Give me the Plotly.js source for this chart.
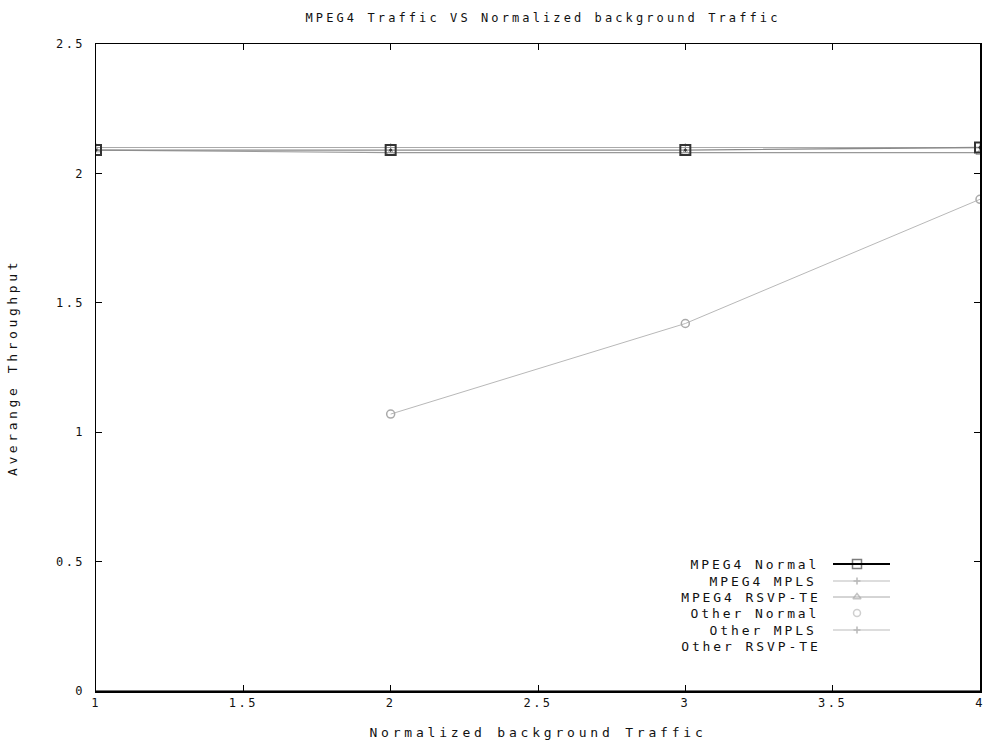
<!DOCTYPE html>
<html>
<head>
<meta charset="utf-8">
<script src="https://cdn.plot.ly/plotly-3.0.1.min.js"></script>
<style>
  html, body { margin: 0; padding: 0; background: #fff; }
  #plot { width: 985px; height: 747px; }
  #plot .gtitle { letter-spacing: 3.1px; }
  #plot .xtitle { letter-spacing: 3.8px; }
  #plot .ytitle { letter-spacing: 3.6px; }
  #plot .xtick text, #plot .ytick text { letter-spacing: 2.5px; }
  #plot .annotation-text { letter-spacing: 2.9px; }
</style>
</head>
<body>
<div id="plot"></div>
<script>
// ---- data ----
const xValues = [1, 2, 3, 4];
const mpeg4Normal = [2.09, 2.09, 2.09, 2.10];
const mpeg4Mpls = [2.10, 2.10, 2.10, 2.10];
const mpeg4Rsvp = [2.09, 2.08, 2.08, 2.08];
const otherNormalX = [2, 3, 4];
const otherNormal = [1.07, 1.42, 1.90];
const otherMpls = [0, 0, 0, 0];
const otherRsvp = [0, 0, 0, 0];
const seriesNames = ["MPEG4 Normal", "MPEG4 MPLS", "MPEG4 RSVP-TE", "Other Normal", "Other MPLS", "Other RSVP-TE"];
const xTickVals = [1, 1.5, 2, 2.5, 3, 3.5, 4];
const xTickText = ["1", "1.5", "2", "2.5", "3", "3.5", "4"];
const yTickVals = [0, 0.5, 1, 1.5, 2, 2.5];
const yTickText = ["0", "0.5", "1", "1.5", "2", "2.5"];

const FONT = "DejaVu Sans Mono, Liberation Mono, monospace";

// plot area in pixels
const L = 96, R = 980, T = 44, B = 691, W = 985, H = 747;
const px2x = p => (p - L) / (R - L);
const px2y = p => (B - p) / (B - T);

const traces = [
  {x: xValues, y: mpeg4Mpls, mode: "lines+markers", name: seriesNames[1],
   line: {color: "#aaaaaa", width: 1.2}, marker: {symbol: "cross-thin-open", size: 6, color: "#999", line: {width: 1, color: "#999"}}},
  {x: xValues, y: mpeg4Rsvp, mode: "lines+markers", name: seriesNames[2],
   line: {color: "#999999", width: 1.2}, marker: {symbol: "triangle-up-open", size: 7, color: "#aaa", line: {width: 1, color: "#aaa"}}},
  {x: xValues, y: mpeg4Normal, mode: "lines+markers", name: seriesNames[0],
   line: {color: "#8a8a8a", width: 1.3}, marker: {symbol: "square-open-dot", size: 10, color: "#333", line: {width: 2, color: "#333"}}},
  {x: otherNormalX, y: otherNormal, mode: "lines+markers", name: seriesNames[3],
   line: {color: "#b8b8b8", width: 1}, marker: {symbol: "circle-open", size: 8, color: "#aaa", line: {width: 1.5, color: "#aaa"}}},
  {x: xValues, y: otherMpls, mode: "lines", name: seriesNames[4],
   line: {color: "#444", width: 1}},
  {x: xValues, y: otherRsvp, mode: "lines", name: seriesNames[5],
   line: {color: "#444", width: 1}}
];

// custom legend (text right-aligned, sample on the right like the original)
const legendRowsPx = [564, 581, 597, 613, 630, 646];
const legendTextRight = 804, sampleX0 = 833, sampleX1 = 890, sampleMid = 857;
const legendStyles = [
  {line: "#000", lw: 2, sym: "square-open", mc: "#444", ms: 9},
  {line: "#bbb", lw: 1, sym: "cross-thin-open", mc: "#999", ms: 5},
  {line: "#aaa", lw: 1, sym: "triangle-up-open", mc: "#aaa", ms: 7},
  {line: null, lw: 0, sym: "circle-open", mc: "#bbb", ms: 7},
  {line: "#bbb", lw: 1, sym: "cross-thin-open", mc: "#999", ms: 5},
  {line: null, lw: 0, sym: null, mc: null, ms: 0}
];
const annotations = [];
const shapes = [];
const legX = [], legY = [], legSym = [], legCol = [], legSize = [];
seriesNames.forEach((n, i) => {
  const yp = px2y(legendRowsPx[i]);
  annotations.push({xref: "paper", yref: "paper", x: px2x(legendTextRight), y: yp,
    xanchor: "right", yanchor: "middle", text: n, showarrow: false,
    font: {family: FONT, size: 13, color: "#111"}});
  const s = legendStyles[i];
  if (s.line) shapes.push({type: "line", xref: "paper", yref: "paper",
    x0: px2x(sampleX0), x1: px2x(sampleX1), y0: yp, y1: yp, line: {color: s.line, width: s.lw}});
  if (s.sym) { legX.push(px2x(sampleMid)); legY.push(yp); legSym.push(s.sym); legCol.push(s.mc); legSize.push(s.ms); }
});
traces.push({x: legX, y: legY, xaxis: "x2", yaxis: "y2", mode: "markers", hoverinfo: "skip", showlegend: false,
  marker: {symbol: legSym, color: legCol, size: legSize, line: {color: legCol, width: 1.5}}});

const layout = {
  width: W, height: H,
  margin: {l: L, r: W - R, t: T, b: H - B, pad: 0},
  paper_bgcolor: "#fff", plot_bgcolor: "#fff",
  showlegend: false,
  font: {family: FONT, size: 12, color: "#111"},
  title: {text: "MPEG4 Traffic VS Normalized background Traffic", font: {family: FONT, size: 12, color: "#111"},
    x: 543 / W, xanchor: "center", xref: "container", y: 1 - 18 / H, yanchor: "middle", yref: "container"},
  xaxis: {
    range: [1, 4], tickvals: xTickVals, ticktext: xTickText,
    ticks: "inside", ticklen: 6, tickcolor: "#000", tickwidth: 1,
    showline: true, linecolor: "#000", linewidth: 1.5, mirror: "ticks",
    showgrid: false, zeroline: false,
    tickfont: {family: FONT, size: 12, color: "#111"},
    title: {text: "Normalized background Traffic", font: {family: FONT, size: 13, color: "#111"}, standoff: 19}
  },
  yaxis: {
    range: [0, 2.5], tickvals: yTickVals, ticktext: yTickText,
    ticks: "inside", ticklen: 6, tickcolor: "#000", tickwidth: 1,
    showline: true, linecolor: "#000", linewidth: 1.5, mirror: "ticks",
    showgrid: false, zeroline: false, ticklabelstandoff: 7,
    tickfont: {family: FONT, size: 12, color: "#111"},
    title: {text: "Averange Throughput", font: {family: FONT, size: 13, color: "#111"}, standoff: 43}
  },
  xaxis2: {overlaying: "x", range: [0, 1], visible: false, fixedrange: true},
  yaxis2: {overlaying: "y", range: [0, 1], visible: false, fixedrange: true},
  annotations: annotations,
  shapes: shapes
};

Plotly.newPlot("plot", traces, layout, {displayModeBar: false, staticPlot: true});
</script>
</body>
</html>
